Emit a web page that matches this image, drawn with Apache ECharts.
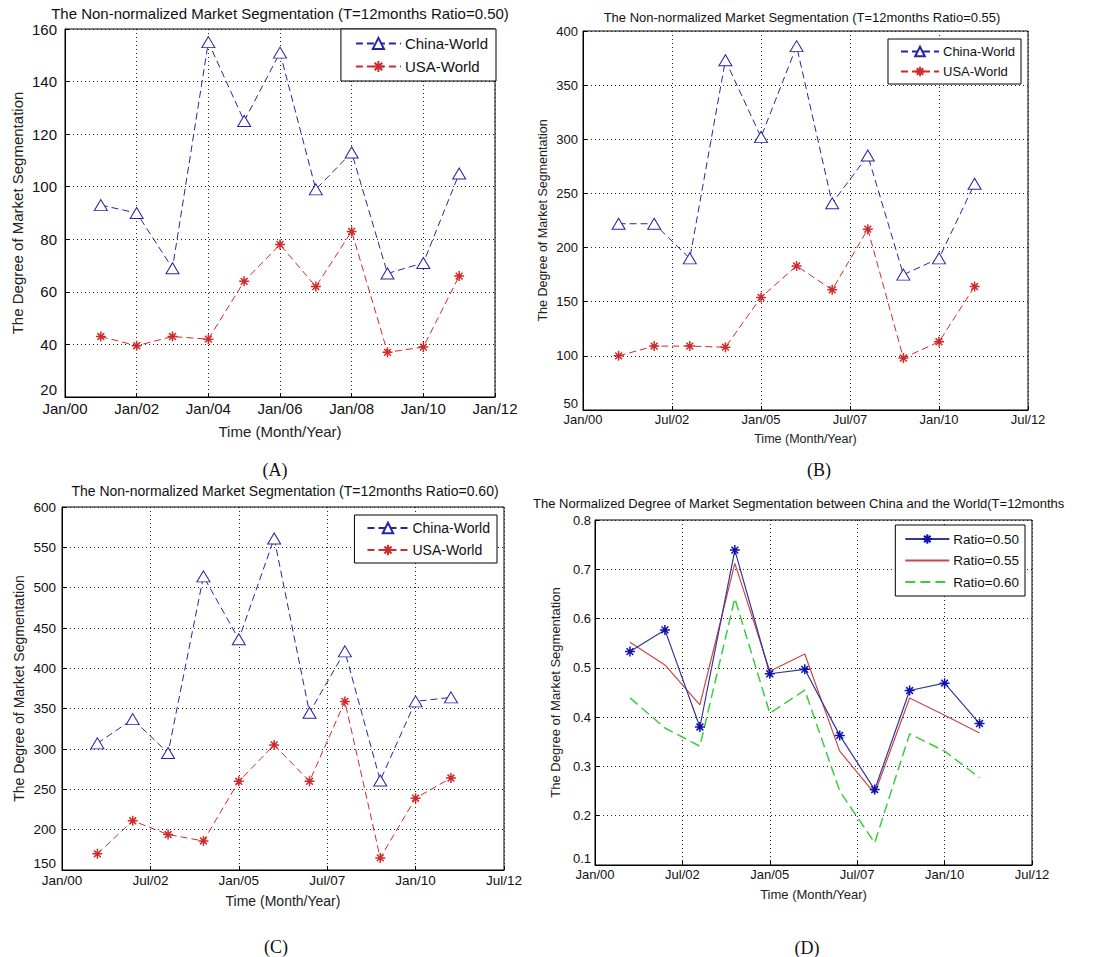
<!DOCTYPE html>
<html>
<head>
<meta charset="utf-8">
<script src="https://cdn.jsdelivr.net/npm/echarts@6/dist/echarts.min.js"></script>
<style>
html,body{margin:0;padding:0;background:#fff;}
#main{width:1093px;height:957px;}
</style>
</head>
<body>
<div id="main"></div>
<script>
// ---------------- data ----------------
const dates = ['Jan/01','Jan/02','Jan/03','Jan/04','Jan/05','Jan/06','Jan/07','Jan/08','Jan/09','Jan/10','Jan/11'];

const chinaA = [93, 90, 69, 155, 125, 151, 99, 113, 67, 71, 105];
const usaA   = [43, 39.5, 43, 42, 64, 78, 62, 83, 37, 39, 66];

const chinaB = [222, 222, 190, 373, 302, 386, 241, 285, 175, 190, 259];
const usaB   = [100, 109, 109, 108, 154, 183, 161, 217, 98, 113, 164];

const chinaC = [307, 337, 295, 514, 436, 561, 345, 421, 261, 359, 364];
const usaC   = [170, 211, 194, 186, 260, 305, 260, 359, 165, 239, 264];

const ratio50 = [0.533, 0.577, 0.380, 0.739, 0.488, 0.497, 0.363, 0.253, 0.454, 0.469, 0.387];
const ratio55 = [0.552, 0.506, 0.425, 0.712, 0.493, 0.528, 0.331, 0.245, 0.439, 0.404, 0.368];
const ratio60 = [0.439, 0.378, 0.341, 0.641, 0.408, 0.455, 0.250, 0.145, 0.366, 0.331, 0.277];

const xTicksA   = ['Jan/00','Jan/02','Jan/04','Jan/06','Jan/08','Jan/10','Jan/12'];
const xTicksBCD = ['Jan/00','Jul/02','Jan/05','Jul/07','Jan/10','Jul/12'];

const titleA = 'The Non-normalized Market Segmentation (T=12months Ratio=0.50)';
const titleB = 'The Non-normalized Market Segmentation (T=12months Ratio=0.55)';
const titleC = 'The Non-normalized Market Segmentation (T=12months Ratio=0.60)';
const titleD = 'The Normalized Degree of Market Segmentation between China and the World(T=12months';
const yName = 'The Degree of Market Segmentation';
const xName = 'Time (Month/Year)';
const panelLabels = ['(A)','(B)','(C)','(D)'];

// ---------------- helpers ----------------
const MONTHS = ['Jan','Feb','Mar','Apr','May','Jun','Jul','Aug','Sep','Oct','Nov','Dec'];
function toYears(s){ const p = s.split('/'); return parseInt(p[1],10) + MONTHS.indexOf(p[0])/12; }
const xs = dates.map(toYears);
function pts(vals){ return vals.map((v,i)=>[xs[i], v]); }

const FONT = 'Liberation Sans, Arial, sans-serif';
const BLUE = '#2626a4', RED = '#d02a2a', GREEN = '#3ccc3c';
const DBLUE = '#35359a', DRED = '#c84848';
const STAR = 'path://M5,0L5,10M0,5L10,5M1.6,1.6L8.4,8.4M1.6,8.4L8.4,1.6';

const panels = [
  {grid:{left:65, top:29, width:430, height:368}, xmax:12, xint:2, xl:xTicksA, ymin:20, ymax:160, yint:20, dec:0,
   tick:15, name:15, yGap:40, xGap:27, ym:8, xm:4},
  {grid:{left:583, top:31, width:445, height:379}, xmax:12.5, xint:2.5, xl:xTicksBCD, ymin:50, ymax:400, yint:50, dec:0,
   tick:13, name:12.5, yGap:34, xGap:22, ym:5, xm:3},
  {grid:{left:62, top:507, width:442, height:363}, xmax:12.5, xint:2.5, xl:xTicksBCD, ymin:150, ymax:600, yint:50, dec:0,
   tick:13.5, name:14, yGap:36, xGap:24, ym:6, xm:3},
  {grid:{left:595, top:520, width:437, height:345}, xmax:12.5, xint:2.5, xl:xTicksBCD, ymin:0.1, ymax:0.8, yint:0.1, dec:1,
   tick:13, name:13, yGap:33, xGap:23, ym:4, xm:3}
];

const grids = [], xAxes = [], yAxes = [];
panels.forEach((p,i)=>{
  grids.push(Object.assign({show:true, borderColor:'#000', borderWidth:1, backgroundColor:'#fff', containLabel:false}, p.grid));
  xAxes.push({
    type:'value', gridIndex:i, min:0, max:p.xmax, interval:p.xint,
    name:xName, nameLocation:'middle', nameGap:p.xGap,
    nameTextStyle:{fontFamily:FONT, fontSize:p.name, color:'#222'},
    axisLine:{show:true, onZero:false, lineStyle:{color:'#000', width:1}},
    axisTick:{show:true, inside:true, length:4, lineStyle:{color:'#000'}},
    axisLabel:{fontFamily:FONT, fontSize:p.tick, color:'#111', margin:p.xm,
      formatter:(v)=>p.xl[Math.round(v/p.xint)] || ''},
    splitLine:{show:true, lineStyle:{color:'#222', type:[1,3], width:1}}
  });
  yAxes.push({
    type:'value', gridIndex:i, min:p.ymin, max:p.ymax, interval:p.yint,
    name:yName, nameLocation:'middle', nameGap:p.yGap,
    nameTextStyle:{fontFamily:FONT, fontSize:p.name, color:'#222'},
    axisLine:{show:true, onZero:false, lineStyle:{color:'#000', width:1}},
    axisTick:{show:true, inside:true, length:4, lineStyle:{color:'#000'}},
    axisLabel:{fontFamily:FONT, fontSize:p.tick, color:'#111', margin:p.ym,
      verticalAlignMinLabel:'bottom',
      formatter:(v)=>Number(v).toFixed(p.dec)},
    splitLine:{show:true, lineStyle:{color:'#222', type:[1,3], width:1}}
  });
});

function chinaSeries(idx, vals){
  return {name:'China-World', type:'line', xAxisIndex:idx, yAxisIndex:idx, data:pts(vals),
    symbol:'triangle', symbolSize:[13,11], showAllSymbol:true,
    lineStyle:{color:BLUE, width:1, type:[7,4]},
    itemStyle:{color:'#fff', borderColor:BLUE, borderWidth:1},
    emphasis:{disabled:true}, animation:false, z:3};
}
function usaSeries(idx, vals){
  return {name:'USA-World', type:'line', xAxisIndex:idx, yAxisIndex:idx, data:pts(vals),
    symbol:STAR, symbolSize:10, showAllSymbol:true,
    lineStyle:{color:RED, width:1, type:[7,4]},
    itemStyle:{color:RED, borderColor:RED, borderWidth:1.5},
    emphasis:{disabled:true}, animation:false, z:3};
}

const series = [
  chinaSeries(0, chinaA), usaSeries(0, usaA),
  chinaSeries(1, chinaB), usaSeries(1, usaB),
  chinaSeries(2, chinaC), usaSeries(2, usaC),
  {name:'Ratio=0.50', type:'line', xAxisIndex:3, yAxisIndex:3, data:pts(ratio50),
    symbol:STAR, symbolSize:10, showAllSymbol:true,
    lineStyle:{color:DBLUE, width:1.2},
    itemStyle:{color:'#1010b0', borderColor:'#1010b0', borderWidth:1.5},
    emphasis:{disabled:true}, animation:false, z:4},
  {name:'Ratio=0.55', type:'line', xAxisIndex:3, yAxisIndex:3, data:pts(ratio55),
    symbol:'none', lineStyle:{color:DRED, width:1.2},
    itemStyle:{color:DRED}, emphasis:{disabled:true}, animation:false, z:3},
  {name:'Ratio=0.60', type:'line', xAxisIndex:3, yAxisIndex:3, data:pts(ratio60),
    symbol:'none', lineStyle:{color:GREEN, width:1.5, type:[10,5]},
    itemStyle:{color:GREEN}, emphasis:{disabled:true}, animation:false, z:3}
];

function legend(names, right, top, font, iw, ih, gap, pad){
  return {data:names, orient:'vertical', right:right, top:top, itemWidth:iw, itemHeight:ih, itemGap:gap,
    padding:pad, backgroundColor:'#fff', borderColor:'#000', borderWidth:1, borderRadius:0,
    selectedMode:false, textStyle:{fontFamily:FONT, fontSize:font, color:'#111', padding:[0,0,0,-1]}};
}
const noMarker = {itemStyle:{opacity:0, color:'rgba(0,0,0,0)', borderWidth:0}};
const legends = [
  legend(['China-World','USA-World'], 1093-496, 29, 15, 45, 14, 8, [7,8,7,14]),
  legend(['China-World','USA-World'], 1093-1021, 39, 13, 38, 12, 7, [6,6,6,12]),
  legend(['China-World','USA-World'], 1093-497, 515, 14, 41, 13, 8, [6,7,6,12]),
  legend(['Ratio=0.50',
          Object.assign({name:'Ratio=0.55'}, noMarker),
          Object.assign({name:'Ratio=0.60'}, noMarker)], 1093-1025, 525, 13.5, 44, 12, 7.5, [7,6,7,9])
];

function txt(t, x, y, size, align, family){
  return {type:'text', x:x, y:y, silent:true,
    style:{text:t, fontFamily:family||FONT, fontSize:size, fill:'#111', textAlign:align, textVerticalAlign:'middle'}};
}
const SERIF = 'Liberation Serif, Times New Roman, serif';
const graphics = [
  txt(titleA, 280, 13, 15, 'center'),
  txt(titleB, 802, 17, 13, 'center'),
  txt(titleC, 285, 491, 14, 'center'),
  txt(titleD, 533, 503, 13, 'left'),
  txt(panelLabels[0], 275, 470, 18, 'center', SERIF),
  txt(panelLabels[1], 819, 470, 18, 'center', SERIF),
  txt(panelLabels[2], 276, 947, 18, 'center', SERIF),
  txt(panelLabels[3], 807, 948, 18, 'center', SERIF)
];

const chart = echarts.init(document.getElementById('main'), null, {renderer:'svg', width:1093, height:957});
chart.setOption({
  animation:false,
  backgroundColor:'#fff',
  grid:grids, xAxis:xAxes, yAxis:yAxes, series:series, legend:legends, graphic:graphics
});
</script>
</body>
</html>
